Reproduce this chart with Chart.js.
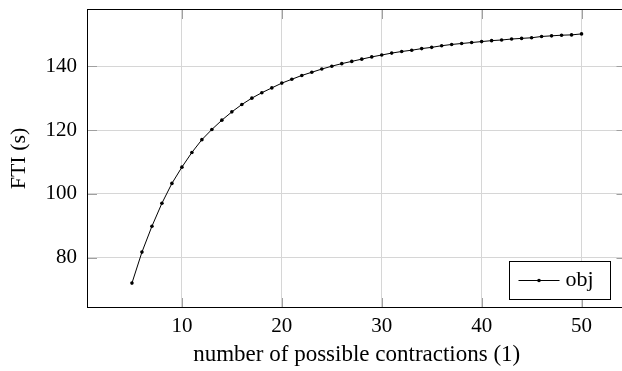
<!DOCTYPE html>
<html>
<head>
<meta charset="utf-8">
<script src="https://cdn.jsdelivr.net/npm/chart.js@4.4.0/dist/chart.umd.min.js"></script>
<style>
    html, body { margin: 0; padding: 0; background: #fff; overflow: hidden; }
    canvas { display: block; }
</style>
</head>
<body>
<canvas id="grafico" width="622" height="371"></canvas>
<script>
// Dados
const contractions = [5, 6, 7, 8, 9, 10, 11, 12, 13, 14, 15, 16, 17, 18, 19, 20,
    21, 22, 23, 24, 25, 26, 27, 28, 29, 30, 31, 32, 33, 34, 35,
    36, 37, 38, 39, 40, 41, 42, 43, 44, 45, 46, 47, 48, 49, 50];
const ftiValues = [72.1, 81.8, 89.9, 97.1, 103.3, 108.4, 113.0, 117.0, 120.2, 123.1, 125.7, 128.0, 130.0, 131.7, 133.2, 134.7,
    135.9, 137.1, 138.1, 139.1, 140.0, 140.8, 141.5, 142.2, 142.9, 143.5, 144.1, 144.6, 145.0, 145.5, 145.9,
    146.4, 146.8, 147.1, 147.4, 147.7, 148.0, 148.2, 148.5, 148.7, 148.9, 149.3, 149.5, 149.7, 149.8, 150.1];
const xTicks = [10, 20, 30, 40, 50];
const yTicks = [80, 100, 120, 140];
const seriesLabel = 'obj';
const xTitle = 'number of possible contractions (1)';
const yTitle = 'FTI (s)';

const serif = '"Liberation Serif", "DejaVu Serif", serif';

//O original está recortado: a borda direita do gráfico fica fora da imagem
const plotRight = 626.5;

//Moldura, marcas internas e legenda no canto inferior direito
const molduraPlugin = {
    id: 'moldura',
    afterLayout(chart) {
        const a = chart.chartArea;
        const x = chart.scales.x;
        a.right = plotRight;
        a.width = a.right - a.left;
        x.right = plotRight;
        x.width = x.right - x.left;
        x.configure();
    },
    afterDraw(chart) {
        const {ctx, chartArea: a, scales: {x, y}} = chart;
        ctx.save();

        //Marcas dos eixos apontando para dentro
        ctx.strokeStyle = '#a0a0a0';
        ctx.lineWidth = 1;
        ctx.beginPath();
        xTicks.forEach(v => {
            const px = Math.round(x.getPixelForValue(v)) + 0.5;
            ctx.moveTo(px, a.bottom); ctx.lineTo(px, a.bottom - 10);
            ctx.moveTo(px, a.top); ctx.lineTo(px, a.top + 10);
        });
        yTicks.forEach(v => {
            const py = Math.round(y.getPixelForValue(v)) + 0.5;
            ctx.moveTo(a.left, py); ctx.lineTo(a.left + 10, py);
            ctx.moveTo(a.right, py); ctx.lineTo(a.right - 10, py);
        });
        ctx.stroke();

        //Moldura
        ctx.strokeStyle = '#000';
        ctx.strokeRect(Math.round(a.left) + 0.5, Math.round(a.top) + 0.5,
            Math.round(a.width) - 1, Math.round(a.height) - 1);

        //Legenda
        const w = 101, h = 38;
        const bx = Math.round(a.right - 0.03 * a.width - w) + 0.5;
        const by = Math.round(a.bottom - 0.03 * a.height - h) + 0.5;
        ctx.fillStyle = '#fff';
        ctx.fillRect(bx, by, w, h);
        ctx.strokeRect(bx, by, w, h);
        const cy = by + h / 2;
        ctx.beginPath();
        ctx.moveTo(bx + 9, cy); ctx.lineTo(bx + 50, cy);
        ctx.stroke();
        ctx.fillStyle = '#000';
        ctx.beginPath();
        ctx.arc(bx + 29.5, cy, 1.8, 0, Math.PI * 2);
        ctx.fill();
        ctx.font = '22px ' + serif;
        ctx.textBaseline = 'alphabetic';
        ctx.textAlign = 'left';
        ctx.fillText(seriesLabel, bx + 56, cy + 5);
        ctx.restore();
    }
};

//Zera o espaço extra que a escala reserva para os rótulos das pontas
const semPadding = s => {
    s.paddingTop = 0;
    s.paddingBottom = 0;
    s.paddingLeft = 0;
    s.paddingRight = 0;
};

const ctx = document.getElementById('grafico').getContext('2d');
new Chart(ctx, {
    type: 'line',
    data: {
        datasets: [{
            label: seriesLabel,
            data: contractions.map((c, i) => ({x: c, y: ftiValues[i]})),
            borderColor: '#000',
            backgroundColor: '#000',
            borderWidth: 1,
            pointRadius: 1.8,
            pointBorderWidth: 0,
            tension: 0,
            fill: false
        }]
    },
    options: {
        responsive: false,
        animation: false,
        devicePixelRatio: 1,
        layout: {padding: {top: 9, right: 0, left: 0, bottom: 0}},
        plugins: {
            legend: {display: false},
            tooltip: {enabled: false}
        },
        scales: {
            x: {
                type: 'linear',
                min: 0.5,
                max: 54.5,
                afterBuildTicks: s => { s.ticks = xTicks.map(v => ({value: v})); },
                afterFit: s => { s.height = 63; semPadding(s); },
                grid: {color: '#d6d6d6', drawTicks: false},
                border: {display: false},
                ticks: {
                    color: '#000',
                    font: {family: serif, size: 21},
                    padding: 6,
                    maxRotation: 0
                },
                title: {
                    display: true,
                    text: xTitle,
                    color: '#000',
                    font: {family: serif, size: 23},
                    padding: {top: 0, bottom: 2}
                }
            },
            y: {
                min: 64.3,
                max: 157.9,
                afterBuildTicks: s => { s.ticks = yTicks.map(v => ({value: v})); },
                afterFit: s => { s.width = 87; semPadding(s); },
                grid: {color: '#d6d6d6', drawTicks: false},
                border: {display: false},
                ticks: {
                    color: '#000',
                    font: {family: serif, size: 21},
                    padding: 10
                },
                title: {
                    display: true,
                    text: yTitle,
                    color: '#000',
                    font: {family: serif, size: 22},
                    padding: {top: 6, bottom: 0}
                }
            }
        }
    },
    plugins: [molduraPlugin]
});
</script>
</body>
</html>
